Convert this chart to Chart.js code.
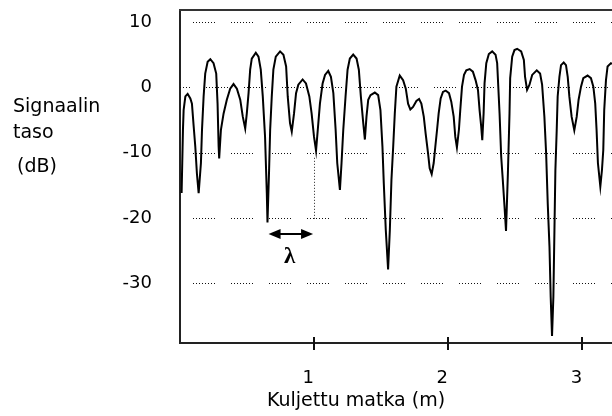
<!DOCTYPE html>
<html>
<head>
<meta charset="utf-8">
<script src="https://cdn.jsdelivr.net/npm/chart.js@4.4.0/dist/chart.umd.min.js"></script>
<style>
  html, body { margin: 0; padding: 0; background: #fff; }
  #wrap { width: 612px; height: 416px; }
</style>
</head>
<body>
<div id="wrap"><canvas id="fading-chart" width="612" height="416"></canvas></div>
<script>
// travelled distance (m)
const distance = [
  0.012, 0.022, 0.027, 0.040, 0.057, 0.077, 0.089, 0.102, 0.114, 0.126,
  0.139, 0.156, 0.164, 0.176, 0.188, 0.206, 0.226, 0.250, 0.270, 0.280,
  0.288, 0.292, 0.305, 0.325, 0.349, 0.374, 0.399, 0.424, 0.449, 0.468,
  0.486, 0.498, 0.511, 0.523, 0.535, 0.565, 0.585, 0.602, 0.617, 0.634,
  0.647, 0.652, 0.664, 0.672, 0.684, 0.696, 0.714, 0.746, 0.771, 0.791,
  0.803, 0.820, 0.833, 0.850, 0.865, 0.882, 0.914, 0.939, 0.964, 0.981,
  0.999, 1.014, 1.031, 1.043, 1.063, 1.081, 1.105, 1.125, 1.143, 1.160,
  1.172, 1.192, 1.204, 1.217, 1.234, 1.249, 1.266, 1.291, 1.316, 1.333,
  1.348, 1.366, 1.378, 1.390, 1.403, 1.420, 1.452, 1.477, 1.494, 1.509,
  1.519, 1.534, 1.551, 1.564, 1.576, 1.589, 1.601, 1.613, 1.638, 1.663,
  1.683, 1.700, 1.717, 1.737, 1.762, 1.782, 1.799, 1.817, 1.831, 1.849,
  1.861, 1.876, 1.891, 1.903, 1.916, 1.928, 1.943, 1.960, 1.980, 2.005,
  2.022, 2.040, 2.052, 2.064, 2.079, 2.089, 2.102, 2.117, 2.134, 2.159,
  2.183, 2.203, 2.221, 2.233, 2.245, 2.253, 2.263, 2.270, 2.283, 2.302,
  2.327, 2.352, 2.364, 2.382, 2.394, 2.406, 2.419, 2.430, 2.444, 2.456,
  2.461, 2.476, 2.493, 2.513, 2.543, 2.563, 2.572, 2.587, 2.605, 2.625,
  2.659, 2.684, 2.699, 2.716, 2.729, 2.741, 2.754, 2.763, 2.773, 2.783,
  2.791, 2.798, 2.808, 2.815, 2.828, 2.840, 2.860, 2.877, 2.890, 2.902,
  2.919, 2.939, 2.957, 2.971, 2.989, 3.006, 3.038, 3.063, 3.081, 3.095,
  3.105, 3.115, 3.133, 3.145, 3.155, 3.162, 3.175, 3.187, 3.212, 3.220
];

// received signal level (dB)
const level = [
  -16.2, -6.5, -3.5, -1.4, -1.0, -1.7, -2.5, -6.0, -9.1, -13.2,
  -16.2, -11.6, -6.5, -1.4, 2.1, 3.9, 4.3, 3.7, 2.1, -2.5,
  -9.1, -10.9, -6.5, -4.0, -1.9, -0.2, 0.5, -0.2, -1.9, -4.5,
  -6.3, -4.0, -0.9, 2.7, 4.4, 5.3, 4.7, 2.7, -1.4, -7.6,
  -16.2, -20.7, -12.7, -6.5, -1.4, 2.7, 4.7, 5.5, 5.0, 3.2,
  -1.4, -5.5, -6.8, -4.0, -0.9, 0.4, 1.2, 0.6, -1.4, -4.0,
  -7.6, -9.7, -5.5, -2.5, 0.6, 1.9, 2.5, 1.6, -0.9, -6.5,
  -11.6, -15.7, -11.6, -6.5, -1.4, 2.7, 4.4, 5.0, 4.4, 2.7,
  -1.4, -5.5, -8.0, -4.5, -1.9, -1.2, -0.8, -1.2, -3.5, -9.1,
  -14.7, -21.9, -27.9, -21.9, -14.2, -9.1, -4.0, 0.1, 1.8, 1.1,
  -0.2, -2.5, -3.4, -3.0, -2.1, -1.8, -2.5, -4.5, -7.1, -10.1,
  -12.4, -13.3, -11.6, -9.1, -6.5, -4.0, -1.7, -0.7, -0.5, -0.9,
  -2.2, -4.5, -7.6, -9.2, -6.5, -3.5, 0.1, 1.9, 2.6, 2.8,
  2.4, 1.1, -0.4, -3.5, -6.0, -8.1, -4.0, 0.6, 3.7, 5.1,
  5.5, 5.0, 3.7, -4.0, -10.6, -14.2, -18.3, -22.0, -13.2, -4.0,
  1.4, 4.7, 5.7, 5.9, 5.5, 4.2, 1.6, -0.4, 0.4, 1.9,
  2.6, 2.1, 0.4, -4.5, -10.1, -17.8, -24.4, -32.1, -38.1, -32.1,
  -21.9, -12.7, -6.5, -1.4, 1.6, 3.4, 3.8, 3.4, 1.6, -1.4,
  -4.5, -6.6, -4.5, -1.9, 0.1, 1.4, 1.8, 1.4, 0.1, -2.5,
  -6.5, -11.6, -15.2, -12.7, -9.6, -3.5, 1.1, 3.2, 3.7, 3.6
];

const xTicks = [1, 2, 3];
const yTicks = [10, 0, -10, -20, -30];
const yTitleLines = ['Signaalin', 'taso', '(dB)'];
const xTitle = 'Kuljettu matka (m)';

// wavelength marker: arrow between two nulls, dotted drop at 1 m
const lambdaSpan = [0.66, 0.992];
const lambdaLevel = -22.5;
const lambdaDrop = [-10.8, -20.4];

const FONT = '"DejaVu Sans", sans-serif';

const decorations = {
  id: 'decorations',
  beforeDatasetsDraw(chart) {
    const { ctx, chartArea: a, scales: { y } } = chart;
    ctx.save();
    // horizontal grid rows, dotted in short runs
    ctx.strokeStyle = '#111';
    ctx.lineWidth = 1;
    ctx.setLineDash([1, 2, 1, 2, 1, 2, 1, 2, 1, 2, 1, 2, 1, 2, 1, 16]);
    yTicks.forEach(v => {
      const py = Math.round(y.getPixelForValue(v)) + 0.5;
      ctx.lineDashOffset = v === 0 ? 12 : 25;
      ctx.beginPath();
      ctx.moveTo(a.left, py);
      ctx.lineTo(a.right, py);
      ctx.stroke();
    });
    ctx.restore();
  },
  afterDraw(chart) {
    const { ctx, chartArea: a, scales: { x, y } } = chart;
    ctx.save();

    // frame line along the top
    ctx.strokeStyle = '#333';
    ctx.lineWidth = 2;
    ctx.beginPath();
    ctx.moveTo(a.left - 1, a.top);
    ctx.lineTo(a.right, a.top);
    ctx.stroke();

    // x tick marks crossing the axis
    ctx.strokeStyle = '#111';
    ctx.lineWidth = 2;
    xTicks.forEach(v => {
      const px = Math.round(x.getPixelForValue(v));
      ctx.beginPath();
      ctx.moveTo(px, a.bottom - 6);
      ctx.lineTo(px, a.bottom + 7);
      ctx.stroke();
    });

    // dotted drop line at 1 m
    const dropX = Math.round(x.getPixelForValue(1)) + 0.5;
    ctx.lineWidth = 1;
    ctx.strokeStyle = '#222';
    ctx.setLineDash([1, 2]);
    ctx.beginPath();
    ctx.moveTo(dropX, y.getPixelForValue(lambdaDrop[0]));
    ctx.lineTo(dropX, y.getPixelForValue(lambdaDrop[1]));
    ctx.stroke();
    ctx.setLineDash([]);

    // double-headed arrow
    const ax0 = x.getPixelForValue(lambdaSpan[0]);
    const ax1 = x.getPixelForValue(lambdaSpan[1]);
    const ay = Math.round(y.getPixelForValue(lambdaLevel));
    ctx.strokeStyle = '#000';
    ctx.fillStyle = '#000';
    ctx.lineWidth = 2;
    ctx.beginPath();
    ctx.moveTo(ax0 + 6, ay);
    ctx.lineTo(ax1 - 6, ay);
    ctx.stroke();
    [[ax0, 1], [ax1, -1]].forEach(([tip, dir]) => {
      ctx.beginPath();
      ctx.moveTo(tip, ay);
      ctx.lineTo(tip + dir * 12, ay - 5);
      ctx.lineTo(tip + dir * 12, ay + 5);
      ctx.closePath();
      ctx.fill();
    });

    ctx.font = 'bold 23px "Liberation Serif", serif';
    ctx.textAlign = 'center';
    ctx.textBaseline = 'middle';
    ctx.fillText('λ', x.getPixelForValue(0.817), y.getPixelForValue(-26));

    // axis titles
    ctx.font = '19px ' + FONT;
    ctx.textAlign = 'left';
    ctx.textBaseline = 'alphabetic';
    ctx.fillText(yTitleLines[0], 13, 112);
    ctx.fillText(yTitleLines[1], 13, 138);
    ctx.fillText(yTitleLines[2], 17, 172);
    ctx.fillText(xTitle, 267, 406);

    ctx.restore();
  }
};

const points = distance.map((d, i) => ({ x: d, y: level[i] }));

new Chart(document.getElementById('fading-chart').getContext('2d'), {
  type: 'line',
  data: {
    datasets: [{
      data: points,
      borderColor: '#000',
      borderWidth: 2,
      pointRadius: 0,
      tension: 0,
      fill: false
    }]
  },
  options: {
    responsive: false,
    animation: false,
    events: [],
    layout: { padding: { top: 10, left: 0, right: 0, bottom: 0 } },
    plugins: {
      legend: { display: false },
      tooltip: { enabled: false }
    },
    scales: {
      x: {
        type: 'linear',
        min: 0,
        max: 3.22,
        afterBuildTicks: scale => { scale.ticks = xTicks.map(v => ({ value: v })); },
        afterFit: scale => {
          scale.height = 73;
          scale.paddingLeft = 0;
          scale.paddingRight = 0;
        },
        grid: { display: false, drawTicks: false },
        border: { display: true, color: '#222', width: 2 },
        ticks: {
          color: '#000',
          font: { family: FONT, size: 18 },
          padding: 25,
          labelOffset: -6,
          maxRotation: 0,
          callback: v => String(v)
        }
      },
      y: {
        type: 'linear',
        min: -39.16,
        max: 11.84,
        afterBuildTicks: scale => { scale.ticks = yTicks.map(v => ({ value: v })); },
        afterFit: scale => {
          scale.width = 180;
          scale.paddingTop = 0;
          scale.paddingBottom = 0;
        },
        grid: { display: false, drawTicks: false },
        border: { display: true, color: '#222', width: 2 },
        ticks: {
          color: '#000',
          font: { family: FONT, size: 18 },
          padding: 28,
          callback: v => String(v)
        }
      }
    }
  },
  plugins: [decorations]
});
</script>
</body>
</html>
